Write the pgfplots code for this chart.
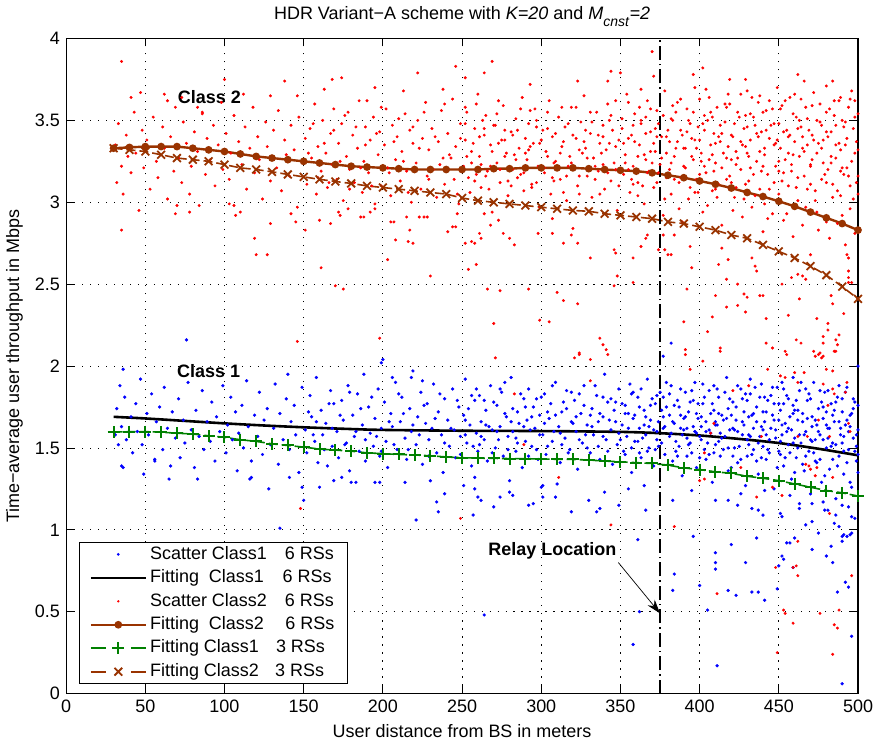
\documentclass[border=0pt]{standalone}
\usepackage{fontspec}
\setmainfont{Liberation Sans}
\usepackage{pgfplots}
\pgfplotsset{compat=1.18}
\usetikzlibrary{arrows.meta}
\definecolor{brn}{RGB}{153,51,0}
\definecolor{grn}{RGB}{0,128,0}
\newcommand{\fs}{\fontsize{18bp}{21bp}\selectfont}
\pgfplotsset{
 limg blue/.style={legend image code/.code={\path[draw=none,fill=none] (0bp,0bp) -- (55bp,0bp); \fill[blue,draw=none] (27.5bp,0bp) circle (1.45bp);}},
 limg red/.style={legend image code/.code={\path[draw=none,fill=none] (0bp,0bp) -- (55bp,0bp); \fill[red,draw=none] (27.5bp,0bp) circle (1.3bp);}},
 limg line/.style={legend image code/.code={\draw[##1] (0bp,0bp) -- (55bp,0bp);}},
 limg mark/.style={legend image code/.code={\draw[##1, mark repeat=2, mark phase=2] plot coordinates {(0bp,0bp) (27.5bp,0bp) (55bp,0bp)};}},
 limg dmark/.style={legend image code/.code={\draw[##1, dash pattern=on 15bp off 25bp on 15bp, mark repeat=2, mark phase=2] plot coordinates {(0bp,0bp) (27.5bp,0bp) (55bp,0bp)};}},
}
\begin{document}
\fs
\begin{tikzpicture}
\begin{axis}[
 scale only axis, width=793bp, height=656bp,
 xmin=0, xmax=500, ymin=0, ymax=4,
 xtick={0,50,100,150,200,250,300,350,400,450,500},
 ytick={0,0.5,1,1.5,2,2.5,3,3.5,4},
 /pgf/number format/assume math mode=true,
 tick label style={font=\fs},
 label style={font=\fs},
 title style={font=\fs},
 tick align=inside, major tick length=8bp,
 tick style={black, line width=0.8bp},
 axis line style={line width=1.2bp},
 grid=major, grid style={black, line width=0.8bp, dash pattern=on 1.2bp off 6.8bp},
 xlabel={User distance from BS in meters},
 ylabel={Time−average user throughput in Mbps},
 title={HDR Variant−A scheme with \textit{K=20} and \textit{M}\raisebox{-0.4em}{\fontsize{14bp}{14bp}\selectfont\textit{cnst}}\textit{=2}},
 legend cell align=left,
 legend style={at={(0.0165,0.0149)}, anchor=south west, draw=black, line width=0.8bp,
   inner xsep=10bp, inner ysep=3bp, row sep=6bp,
   nodes={inner xsep=3bp, inner ysep=0pt, text height=13.5bp, text depth=4bp, font=\fs}},
]
% Scatter Class1 6 RSs
\addplot[only marks, mark=*, mark size=1.45bp, blue, limg blue] coordinates {
(31,1.58) (32,1.74) (33,1.52) (34,1.88) (35,1.63) (36,1.38) (37,1.81) (38,1.55)
(41,1.69) (42,1.47) (44,1.77) (45,1.60) (47,1.92) (48,1.52) (49,1.34)
(51,1.71) (52,1.58) (54,1.83) (56,1.43) (57,1.66) (59,1.75)
(61,1.49) (62,1.87) (64,1.62) (65,1.31) (67,1.72) (69,1.56)
(71,1.80) (72,1.44) (74,1.67) (75,1.53) (77,1.90) (79,1.61)
(81,1.38) (82,1.73) (84,1.57) (86,1.85) (87,1.49) (89,1.66)
(91,1.54) (92,1.78) (94,1.42) (95,1.69) (97,1.60) (99,1.88)
(101,1.47) (102,1.64) (104,1.81) (105,1.55) (107,1.72) (108,1.36) (109,1.59)
(111,1.76) (112,1.50) (114,1.91) (115,1.63) (117,1.42) (119,1.70)
(121,1.57) (122,1.84) (124,1.46) (125,1.67) (127,1.74) (129,1.52)
(131,1.62) (132,1.89) (134,1.40) (135,1.71) (137,1.55) (139,1.80)
(141,1.49) (142,1.66) (144,1.76) (145,1.58) (147,1.35) (149,1.87)
(151,1.61) (152,1.47) (154,1.82) (155,1.69) (157,1.54) (158,1.93) (159,1.41)
(161,1.73) (162,1.58) (164,1.65) (165,1.39) (167,1.85) (168,1.51) (169,1.77)
(171,1.60) (172,1.44) (174,1.79) (175,1.67) (177,1.53) (178,1.88) (179,1.36)
(181,1.70) (182,1.57) (184,1.83) (185,1.48) (187,1.64) (188,1.95) (189,1.42)
(191,1.75) (192,1.59) (194,1.51) (195,1.68) (197,1.86) (198,1.45) (199,1.62)
(201,1.78) (202,1.54) (203,1.38) (205,1.71) (206,1.63) (208,1.90) (209,1.49)
(211,1.66) (212,1.81) (214,1.56) (215,1.43) (217,1.74) (218,1.60) (219,1.97)
(221,1.52) (222,1.69) (224,1.84) (225,1.40) (227,1.65) (228,1.77) (229,1.55)
(231,1.62) (232,1.89) (234,1.47) (235,1.72) (237,1.58) (238,1.35) (239,1.80)
(241,1.67) (242,1.51) (244,1.86) (245,1.61) (246,1.44) (248,1.75) (249,1.57)
(251,1.70) (252,1.92) (253,1.53) (255,1.64) (256,1.39) (258,1.79) (259,1.59) (260,1.48)
(261,1.82) (262,1.66) (264,1.55) (265,1.73) (266,1.42) (268,1.88) (269,1.61)
(271,1.50) (272,1.76) (274,1.63) (275,1.84) (276,1.45) (278,1.69) (279,1.57)
(281,1.93) (282,1.60) (284,1.48) (285,1.72) (286,1.65) (288,1.38) (289,1.80) (290,1.54)
(291,1.67) (292,1.86) (294,1.51) (295,1.75) (296,1.62) (298,1.43) (299,1.70)
(301,1.58) (302,1.83) (303,1.46) (305,1.68) (306,1.77) (307,1.54) (309,1.90)
(311,1.63) (312,1.41) (313,1.72) (315,1.56) (316,1.85) (318,1.49) (319,1.66)
(321,1.79) (322,1.60) (323,1.37) (325,1.71) (326,1.53) (327,1.88) (329,1.64)
(331,1.47) (332,1.74) (333,1.58) (335,1.82) (336,1.66) (337,1.43) (339,1.69) (340,1.95)
(341,1.55) (342,1.78) (344,1.61) (345,1.40) (346,1.73) (348,1.52) (349,1.86)
(351,1.64) (352,1.48) (353,1.76) (354,1.57) (356,1.89) (357,1.35) (358,1.68) (359,1.54)
(361,1.81) (362,1.62) (363,1.44) (365,1.73) (366,1.58) (367,1.92) (368,1.50) (369,1.67)
(371,1.39) (372,1.77) (373,1.60) (375,1.84) (376,1.53) (377,1.69) (378,1.46) (379,1.75)
(381,1.57) (382,1.88) (383,1.42) (384,1.65) (386,1.79) (387,1.51) (388,1.70) (389,1.33) (390,1.61)
(391,1.84) (392,1.56) (393,1.72) (395,1.47) (396,1.63) (397,1.90) (398,1.38) (399,1.68)
(401,1.55) (402,1.77) (403,1.49) (404,1.66) (406,1.85) (407,1.59) (408,1.29) (409,1.73) (410,1.52)
(411,1.64) (412,1.81) (413,1.45) (414,1.70) (416,1.57) (417,1.93) (418,1.36) (419,1.61)
(421,1.78) (422,1.50) (423,1.67) (424,1.41) (426,1.86) (427,1.58) (428,1.72) (429,1.27) (430,1.55)
(431,1.69) (432,1.83) (433,1.46) (434,1.62) (436,1.75) (437,1.34) (438,1.57) (439,1.89) (440,1.51)
(441,1.66) (442,1.43) (443,1.79) (444,1.55) (446,1.70) (447,1.25) (448,1.61) (449,1.87) (450,1.48)
(451,1.73) (452,1.58) (453,1.39) (454,1.65) (455,1.82) (456,1.52) (457,1.69) (458,1.31) (459,1.76) (460,1.56)
(461,1.44) (462,1.67) (463,1.85) (464,1.53) (465,1.71) (466,1.36) (467,1.60) (468,1.79) (469,1.48) (470,1.22)
(471,1.63) (472,1.90) (473,1.55) (474,1.41) (475,1.74) (476,1.58) (477,1.29) (478,1.68) (479,1.84) (480,1.50)
(481,1.62) (482,1.37) (483,1.77) (484,1.53) (485,1.66) (486,1.19) (487,1.81) (488,1.45) (489,1.58) (490,1.72)
(491,1.34) (492,1.64) (493,1.87) (494,1.49) (495,1.70) (496,1.26) (497,1.56) (498,1.78) (499,1.42) (500,1.61)
(353,1.71) (357,1.50) (362,1.75) (364,1.56) (368,1.63) (372,1.49) (374,1.66) (377,1.81) (381,1.70) (385,1.54)
(388,1.62) (392,1.45) (394,1.78) (398,1.59) (401,1.69) (404,1.43) (406,1.61) (409,1.88) (412,1.54) (415,1.67)
(418,1.74) (421,1.45) (424,1.60) (427,1.80) (431,1.52) (434,1.71) (436,1.42) (439,1.63) (442,1.58) (445,1.82)
(447,1.67) (451,1.46) (453,1.77) (456,1.62) (459,1.53) (462,1.73) (465,1.40) (467,1.86) (471,1.54) (473,1.67)
(476,1.43) (478,1.75) (481,1.56) (484,1.70) (486,1.52) (488,1.88) (491,1.57) (493,1.41) (495,1.63) (497,1.80)
(499,1.51) (500,1.35)
(153,1.72) (156,1.58) (158,1.66) (163,1.49) (166,1.77) (168,1.62) (173,1.70) (176,1.52) (179,1.84)
(183,1.60) (186,1.74) (189,1.55) (193,1.81) (196,1.57) (199,1.48) (204,1.66) (207,1.52) (210,1.83)
(213,1.71) (216,1.49) (219,1.64) (223,1.58) (226,1.76) (229,1.45) (233,1.68) (236,1.83) (239,1.53)
(243,1.62) (247,1.79) (249,1.46) (252,1.58) (254,1.74) (257,1.51) (259,1.86) (262,1.57) (264,1.79)
(267,1.63) (269,1.47) (272,1.60) (274,1.86) (277,1.71) (279,1.49) (282,1.74) (284,1.56) (287,1.83)
(289,1.63) (292,1.45) (294,1.69) (297,1.80) (299,1.58) (302,1.65) (304,1.51) (307,1.88) (309,1.70)
(312,1.59) (314,1.78) (317,1.47) (319,1.84) (322,1.69) (324,1.55) (327,1.76) (329,1.50) (332,1.63)
(334,1.88) (337,1.71) (339,1.57) (342,1.48) (344,1.80) (347,1.66) (349,1.59)
(351,1.77) (353,1.46) (355,1.62) (357,1.83) (359,1.70) (361,1.54) (363,1.86) (365,1.64) (367,1.48) (369,1.76)
(371,1.61) (373,1.82) (374,1.51) (376,1.73) (378,1.63) (380,1.40) (381,1.83) (383,1.66) (385,1.48) (387,1.75)
(389,1.58) (391,1.69) (393,1.52) (395,1.85) (397,1.60) (399,1.77) (400,1.44) (401,1.63) (403,1.81) (405,1.53)
(407,1.71) (409,1.47) (410,1.66) (411,1.86) (413,1.59) (415,1.49) (417,1.68) (419,1.80) (420,1.38) (421,1.62)
(423,1.75) (425,1.51) (427,1.66) (429,1.83) (430,1.45) (431,1.58) (433,1.70) (435,1.87) (437,1.53) (439,1.44)
(440,1.72) (441,1.81) (443,1.49) (445,1.62) (447,1.77) (449,1.38) (450,1.67) (451,1.54) (453,1.86) (455,1.60)
(457,1.47) (459,1.71) (460,1.35) (461,1.79) (463,1.58) (465,1.66) (467,1.45) (469,1.83) (470,1.55) (471,1.69)
(473,1.42) (475,1.60) (477,1.78) (479,1.33) (480,1.64) (481,1.85) (483,1.51) (485,1.73) (487,1.39) (489,1.62)
(490,1.80) (491,1.48) (493,1.67) (495,1.29) (497,1.74) (499,1.58) (500,1.46)
(252,1.67) (256,1.82) (261,1.52) (265,1.64) (270,1.78) (273,1.55) (277,1.90) (281,1.66) (285,1.53) (290,1.75)
(293,1.61) (297,1.49) (300,1.81) (304,1.72) (308,1.60) (313,1.52) (316,1.74) (320,1.65) (324,1.83) (328,1.58)
(331,1.70) (336,1.51) (339,1.81) (343,1.67) (347,1.78) (350,1.55) (355,1.71) (358,1.84) (362,1.47) (366,1.69)
(370,1.80) (373,1.55) (377,1.62) (379,1.90)
(382,1.59) (384,1.76) (386,1.45) (388,1.86) (390,1.68) (392,1.62) (394,1.53) (396,1.79) (398,1.71) (400,1.57)
(402,1.89) (404,1.60) (406,1.46) (408,1.77) (410,1.64) (412,1.71) (414,1.56) (416,1.84) (418,1.50) (420,1.70)
(422,1.61) (424,1.88) (426,1.43) (428,1.64) (430,1.79) (432,1.57) (434,1.49) (436,1.66) (438,1.81) (440,1.61)
(442,1.72) (444,1.47) (446,1.87) (448,1.56) (450,1.77) (452,1.64) (454,1.44) (456,1.80) (458,1.61) (460,1.73)
(462,1.50) (464,1.90) (466,1.58) (468,1.68) (470,1.80) (472,1.47) (474,1.64) (476,1.85) (478,1.55) (480,1.72)
(482,1.62) (484,1.43) (486,1.78) (488,1.66) (490,1.53) (492,1.84) (494,1.60) (496,1.71) (498,1.48) (500,1.76)
(418,1.18) (433,1.13) (452,1.08) (463,1.16) (471,1.05) (479,1.12) (488,1.02) (494,1.14) (498,1.07) (457,1.21)
(441,1.24) (426,1.22) (395,1.24) (365,1.27) (340,1.23) (310,1.28) (280,1.30)
(83,1.31) (116,1.31) (128,1.25) (141,1.32) (149,1.26) (150,1.18) (135,1.01) (160,1.26) (169,1.30) (174,1.32)
(180,1.29) (183,1.29) (195,1.29) (198,1.29) (214,1.29) (230,1.30) (221,1.06) (234,1.17) (235,1.11) (239,1.22)
(251,1.27) (258,1.25) (260,1.20) (257,1.09) (258,1.32) (270,1.14) (274,1.20) (280,1.23) (295,1.16) (301,1.27) (301,1.20)
(319,1.11) (292,1.15) (300,1.26) (309,1.20) (282,1.21) (262,1.18) (330,1.18) (335,1.11) (337,1.13) (349,1.15)
(355,1.25) (366,1.12) (383,1.18) (410,1.18) (424,1.15) (437,1.12) (440,1.09) (451,1.10) (463,1.13) (471,1.16)
(481,1.12) (486,1.09) (496,1.08) (478,1.17) (490,1.15)
(35,1.39) (56,1.42) (66,1.39) (117,1.32) (36,1.98) (76,2.16) (140,1.95) (199,2.02) (200,2.04) (206,1.93)
(225,1.91) (218,1.93) (382,2.14) (377,2.06) (432,1.92) (452,1.90) (459,1.93) (500,2.00)
(361,0.94) (362,0.50) (358,0.30) (384,0.73) (383,0.63) (396,0.96) (400,0.66) (405,0.51) (410,0.86) (410,0.80)
(410,0.76) (411,0.17) (418,0.63) (420,0.91) (423,0.60) (429,0.80) (433,0.62) (437,0.62) (436,0.95) (441,0.57)
(449,0.64) (450,0.78) (452,0.84) (453,0.82) (455,0.92) (457,0.92) (459,0.77) (460,0.95) (467,1.03) (471,0.88)
(475,0.98) (480,0.84) (483,0.90) (484,0.80) (485,1.04) (487,0.62) (490,0.96) (491,0.97) (490,0.93) (492,0.68)
(493,0.96) (494,0.65) (495,0.97) (496,0.98) (496,0.35) (490,0.06) (123,0.48) (264,0.48)
};
\addlegendentry{Scatter Class1\hspace{1em}6 RSs}
% Fitting Class1 6 RSs
\addplot[black, line width=2.6bp, smooth, limg line] coordinates {
(30,1.69) (50,1.68) (75,1.665) (100,1.65) (125,1.637) (150,1.626) (175,1.617) (200,1.61) (250,1.605)
(300,1.603) (350,1.598) (375,1.59) (400,1.576) (425,1.555) (450,1.53) (475,1.495) (500,1.455)
};
\addlegendentry{Fitting\hspace{0.55em}Class1\hspace{1.05em}6 RSs}
% Scatter Class2 6 RSs
\addplot[only marks, mark=*, mark size=1.3bp, red, limg red] coordinates {
(31,3.35) (32,3.12) (33,3.48) (35,3.22) (36,3.05) (38,3.41) (39,3.28)
(41,3.18) (43,3.55) (44,3.30) (46,2.95) (48,3.44) (49,3.21)
(51,3.38) (53,3.08) (55,3.52) (57,3.25) (58,3.15)
(61,3.46) (62,3.33) (64,3.02) (66,3.40) (68,3.19) (69,3.58)
(71,3.27) (73,3.12) (74,3.49) (76,3.36) (78,3.05) (79,3.22)
(81,3.43) (83,3.31) (84,2.98) (86,3.54) (88,3.17) (89,3.39)
(91,3.26) (93,3.47) (94,3.10) (96,3.35) (98,3.61) (99,3.20)
(101,3.42) (103,3.14) (104,3.30) (106,3.53) (107,2.92) (109,3.37)
(111,3.23) (113,3.46) (114,3.08) (116,3.33) (118,3.58) (119,3.18)
(121,3.40) (122,3.26) (124,3.02) (126,3.49) (127,3.34) (129,3.13)
(131,3.44) (133,3.21) (134,3.56) (136,3.07) (138,3.38) (139,3.29)
(141,3.16) (142,3.47) (144,3.32) (146,2.97) (147,3.52) (149,3.24)
(151,3.39) (152,3.11) (154,3.45) (155,3.27) (157,3.60) (158,3.05) (159,3.34)
(161,3.19) (162,3.50) (164,3.30) (165,3.09) (167,3.42) (168,3.23) (169,3.57)
(171,3.14) (172,3.36) (174,3.48) (175,3.01) (177,3.28) (178,3.55) (179,3.20)
(181,3.41) (182,3.12) (184,3.33) (185,3.62) (187,3.06) (188,3.25) (189,3.46)
(191,3.18) (192,3.38) (194,3.52) (195,2.96) (197,3.29) (198,3.43) (199,3.10)
(201,3.35) (202,3.57) (203,3.21) (205,3.04) (206,3.47) (208,3.26) (209,3.40)
(211,3.13) (212,3.31) (214,3.54) (215,3.19) (217,3.44) (218,3.00) (219,3.36)
(221,3.24) (222,3.50) (224,3.08) (225,3.39) (227,3.61) (228,3.16) (229,3.32)
(231,3.45) (232,3.20) (234,3.03) (235,3.37) (237,3.56) (238,3.27) (239,3.11)
(241,3.42) (242,3.29) (244,3.63) (245,3.14) (246,3.34) (248,2.99) (249,3.48)
(251,3.22) (252,3.38) (253,3.55) (255,3.06) (256,3.31) (258,3.45) (259,3.17) (260,3.66)
(261,3.28) (262,3.09) (264,3.41) (265,3.53) (266,3.19) (268,3.35) (269,2.94)
(271,3.47) (272,3.24) (274,3.12) (275,3.38) (276,3.59) (278,3.30) (279,3.04)
(281,3.43) (282,3.20) (284,3.51) (285,3.15) (286,3.33) (288,3.64) (289,3.07) (290,3.39)
(291,3.26) (292,3.48) (294,3.11) (295,3.36) (296,3.57) (298,3.22) (299,2.97)
(301,3.44) (302,3.18) (303,3.31) (305,3.62) (306,3.05) (307,3.40) (309,3.25)
(311,3.52) (312,3.14) (313,3.34) (315,3.46) (316,3.01) (318,3.28) (319,3.58)
(321,3.21) (322,3.39) (323,3.10) (325,3.49) (326,3.30) (327,3.65) (329,3.16)
(331,3.42) (332,3.03) (333,3.27) (335,3.55) (336,3.19) (337,3.36) (339,3.47) (340,3.08)
(341,3.32) (342,3.60) (344,3.13) (345,3.44) (346,3.24) (348,2.95) (349,3.38)
(351,3.51) (352,3.17) (353,3.29) (354,3.66) (356,3.06) (357,3.41) (358,3.22) (359,3.54)
(361,3.12) (362,3.35) (363,3.48) (365,2.99) (366,3.26) (367,3.62) (368,3.19) (369,3.43)
(371,3.09) (372,3.31) (373,3.56) (375,3.23) (376,3.40) (377,2.92) (378,3.68) (379,3.15)
(381,3.37) (382,3.05) (383,3.50) (384,3.28) (386,3.61) (387,3.12) (388,3.44) (389,2.88) (390,3.33)
(391,3.21) (392,3.57) (393,3.02) (395,3.39) (396,3.26) (397,3.70) (398,3.14) (399,3.46)
(401,3.30) (402,2.94) (403,3.53) (404,3.18) (406,3.64) (407,3.35) (408,3.07) (409,3.42) (410,3.24)
(411,3.58) (412,3.11) (413,3.37) (414,2.86) (416,3.49) (417,3.27) (418,3.66) (419,3.16)
(421,3.40) (422,3.03) (423,3.31) (424,3.55) (426,3.20) (427,2.91) (428,3.45) (429,3.34) (430,3.68)
(431,3.13) (432,3.38) (433,2.97) (434,3.52) (436,3.25) (437,3.61) (438,3.08) (439,3.43) (440,2.82)
(441,3.29) (442,3.56) (443,3.17) (444,3.39) (446,2.93) (447,3.48) (448,3.22) (449,3.70) (450,3.05)
(451,3.33) (452,3.59) (453,2.89) (454,3.26) (455,3.44) (456,3.10) (457,3.64) (458,3.19) (459,2.79) (460,3.37)
(461,3.52) (462,3.01) (463,3.28) (464,3.46) (465,2.86) (466,3.16) (467,3.58) (468,3.35) (469,2.95) (470,3.23)
(471,3.41) (472,3.67) (473,3.07) (474,3.30) (475,2.83) (476,3.49) (477,3.14) (478,3.38) (479,2.91) (480,3.55)
(481,3.20) (482,2.78) (483,3.43) (484,3.11) (485,3.62) (486,3.27) (487,2.87) (488,3.36) (489,3.04) (490,3.50)
(491,3.17) (492,2.74) (493,3.39) (494,3.58) (495,2.96) (496,3.25) (497,3.45) (498,2.81) (499,3.12) (500,3.32)
(352,3.36) (355,3.20) (358,3.47) (361,3.28) (364,3.10) (366,3.52) (369,3.31) (372,3.45) (374,3.18) (379,3.40)
(382,3.24) (385,3.55) (388,3.15) (391,3.33) (394,3.48) (397,3.06) (400,3.38) (403,3.22) (405,3.50) (408,3.29)
(411,3.12) (414,3.42) (417,3.58) (420,3.26) (423,3.09) (426,3.37) (429,3.53) (432,3.21) (435,3.47) (438,3.31)
(441,2.99) (444,3.62) (447,3.35) (450,3.19) (453,3.43) (456,3.30) (459,3.54) (462,3.15) (465,3.40) (468,3.08)
(471,3.26) (474,3.50) (477,3.33) (480,3.12) (483,3.28) (486,3.47) (489,3.19) (492,3.35) (495,3.10) (498,3.52) (500,3.05)
(253,3.28) (258,3.13) (263,3.50) (268,3.22) (273,3.36) (277,3.44) (283,3.29) (287,3.17) (293,3.34) (297,3.46)
(304,3.28) (308,3.13) (314,3.37) (317,3.22) (324,3.32) (328,3.44) (334,3.14) (338,3.30) (343,3.50) (347,3.20)
(153,3.30) (156,3.48) (159,3.15) (163,3.36) (166,3.12) (169,3.44) (173,3.25) (176,3.53) (179,3.08)
(183,3.46) (186,3.21) (189,3.35) (193,3.10) (196,3.42) (199,3.58) (204,3.18) (207,3.37) (210,3.51)
(213,3.25) (216,3.06) (219,3.46) (223,3.33) (226,3.55) (229,3.14) (233,3.40) (236,3.23) (239,3.60)
(243,3.27) (247,3.05) (249,3.39) (252,3.48) (254,3.15) (257,3.36) (259,3.60) (262,3.23) (264,3.45)
(267,3.08) (269,3.31) (272,3.54) (274,3.20) (277,3.38) (279,3.13) (282,3.41) (284,3.26) (287,3.57)
(289,3.18) (292,3.32) (294,3.09) (297,3.50) (299,3.36) (302,3.21) (304,3.55) (307,3.15) (309,3.42)
(312,3.30) (314,3.06) (317,3.48) (319,3.24) (322,3.58) (324,3.16) (327,3.37) (329,3.27) (332,3.49)
(334,3.22) (337,3.05) (339,3.40) (342,3.18) (344,3.53) (347,3.34) (349,3.10)
(351,3.45) (353,3.24) (355,3.61) (357,3.14) (359,3.37) (361,3.04) (363,3.50) (365,3.29) (367,3.18) (369,3.57)
(371,3.36) (373,3.12) (374,3.48) (376,3.27) (378,3.02) (380,3.44) (381,3.20) (383,3.59) (385,3.33) (387,2.96)
(389,3.41) (391,3.15) (393,3.50) (395,3.28) (397,3.38) (399,3.06) (400,3.63) (401,3.25) (403,3.44) (405,2.98)
(407,3.55) (409,3.19) (410,3.36) (411,3.03) (413,3.47) (415,3.30) (417,3.14) (419,3.60) (420,3.41) (421,2.95)
(423,3.23) (425,3.52) (427,3.35) (429,3.11) (430,3.46) (431,3.28) (433,3.64) (435,3.04) (437,3.40) (439,3.19)
(440,3.55) (441,3.33) (443,2.90) (445,3.47) (447,3.12) (449,3.38) (450,3.25) (451,3.57) (453,3.18) (455,2.93)
(457,3.41) (459,3.29) (460,3.66) (461,3.09) (463,3.50) (465,3.33) (467,2.97) (469,3.44) (470,3.22) (471,3.59)
(473,3.01) (475,3.36) (477,3.47) (479,3.17) (480,2.88) (481,3.40) (483,3.24) (485,3.53) (487,3.07) (489,3.32)
(490,2.92) (491,3.46) (493,3.21) (495,3.63) (497,3.02) (499,3.37) (500,3.16)
(252,3.58) (256,3.24) (261,3.40) (265,3.16) (270,3.47) (273,3.62) (277,3.28) (281,3.10) (285,3.44) (290,3.30)
(293,3.56) (297,3.12) (300,3.38) (304,3.45) (308,3.24) (313,3.58) (316,3.16) (320,3.41) (324,3.05) (328,3.33)
(331,3.55) (336,3.41) (339,3.23) (343,3.36) (347,3.62) (350,3.20) (355,3.39) (358,3.11) (362,3.58) (366,3.42)
(370,3.24) (373,3.40) (377,3.53) (379,3.30)
(382,3.51) (384,3.14) (386,3.37) (388,3.63) (390,3.22) (392,3.43) (394,3.09) (396,3.55) (398,3.33) (400,3.17)
(402,3.48) (404,3.69) (406,3.26) (408,3.52) (410,3.08) (412,3.40) (414,3.21) (416,3.60) (418,3.34) (420,3.12)
(422,3.48) (424,3.27) (426,3.66) (428,3.02) (430,3.30) (432,3.54) (434,3.17) (436,3.42) (438,3.65) (440,3.22)
(442,3.44) (444,3.08) (446,3.57) (448,3.36) (450,3.48) (452,3.13) (454,3.62) (456,3.40) (458,3.23) (460,2.98)
(462,3.45) (464,3.63) (466,3.31) (468,3.51) (470,3.11) (472,3.38) (474,2.94) (476,3.60) (478,3.24) (480,3.43)
(482,3.57) (484,3.03) (486,3.35) (488,3.62) (490,3.21) (492,3.49) (494,3.16) (496,3.68) (498,3.30) (500,3.54)
(41,3.64) (47,3.67) (62,3.66) (64,3.62) (73,3.64) (83,3.58) (86,3.55) (100,3.75) (112,3.66) (129,3.65)
(138,3.74) (146,3.65) (163,3.69) (168,3.75) (174,3.76) (190,3.62) (195,3.70) (213,3.68) (222,3.79) (238,3.69)
(246,3.83) (269,3.86) (264,3.79) (252,3.76) (293,3.72) (323,3.74) (342,3.74) (344,3.80) (350,3.79) (363,3.69)
(371,3.77) (402,3.82) (396,3.78) (419,3.75) (429,3.75) (462,3.78) (466,3.74) (484,3.74) (480,3.71) (489,3.64)
(498,3.62) (35,3.86) (370,3.92)
(35,2.83) (69,2.93) (70,2.98) (78,2.94) (103,2.99) (106,2.98) (110,2.94) (119,2.78) (120,2.68) (127,2.68)
(129,2.87) (142,2.93) (145,2.88) (151,2.83) (146,2.15) (160,2.89) (161,2.60) (167,2.87) (172,2.94) (173,2.92)
(170,2.49) (175,2.47) (178,2.96) (186,2.91) (188,2.91) (192,2.94) (195,2.99) (198,2.17) (203,2.65) (205,2.88)
(207,2.88) (208,2.77) (215,2.91) (217,2.83) (216,2.76) (219,2.75) (223,2.91) (226,2.91) (228,2.91) (230,2.55)
(241,2.82) (246,2.85)
(244,2.85) (247,2.93) (252,2.75) (254,2.59) (256,2.76) (258,2.75) (259,2.62) (261,2.81) (262,2.78) (264,2.93)
(266,2.47) (268,2.86) (270,2.26) (273,2.89) (274,2.46) (276,2.81) (280,2.78) (283,2.74) (292,2.47) (299,2.28)
(305,2.27) (298,2.81) (307,2.90) (307,2.81) (310,2.45) (314,2.40) (314,2.75) (319,2.80) (320,2.84) (323,2.38)
(323,2.75) (324,2.07) (331,2.66) (337,2.17) (341,2.10) (346,2.71) (347,2.69) (348,2.55) (346,2.49) (358,2.66)
(358,2.51) (363,2.73) (366,2.78) (367,2.80) (374,2.71) (377,2.80) (378,2.71) (380,2.68) (382,2.68) (384,2.80)
(390,2.27) (391,2.10) (392,2.47) (394,2.73) (395,2.60) (405,2.21) (408,2.30) (410,2.43) (412,2.62) (413,2.11)
(414,2.72) (417,2.53) (418,2.65) (417,2.36) (424,2.37) (424,2.50) (428,2.44) (430,2.42) (429,2.33) (433,2.66)
(435,2.61) (438,2.43) (440,2.43) (436,2.58) (442,2.14) (442,2.29) (452,2.50) (454,2.09) (456,2.31) (458,2.54)
(462,2.56) (465,2.55) (463,2.41) (461,2.16) (467,2.53) (470,2.68) (472,2.09) (474,2.29) (476,2.08) (478,2.06)
(478,2.18) (481,2.26) (481,2.22) (483,2.43) (484,2.38) (485,2.09) (486,2.16) (488,2.19) (491,2.32) (494,2.51)
(496,2.51) (493,2.68) (494,2.66) (494,2.54) (494,2.58)
(271,2.05) (324,2.08) (321,2.05) (331,2.04) (339,2.13) (342,2.07) (331,1.91) (283,1.83) (289,1.52) (311,1.32)
(391,2.07) (402,2.03) (394,1.98) (413,2.09) (421,1.85) (409,1.65) (407,1.59) (403,1.47) (400,1.30) (403,1.31)
(426,1.38) (431,1.88) (436,1.20) (443,1.98) (446,2.11) (446,1.26) (451,1.94) (454,1.93) (455,2.07) (460,1.96)
(466,1.96) (462,1.90) (464,2.14) (467,1.40) (469,1.39) (470,1.37) (474,1.38) (475,2.07) (477,2.05) (473,2.06)
(478,2.14) (486,2.09) (487,2.13) (480,1.98) (484,1.97) (478,1.89) (484,1.86) (485,1.83) (481,1.76) (475,1.67)
(482,1.57) (468,1.57) (462,1.57) (473,1.33) (484,1.32) (493,1.90) (492,1.84) (494,1.65) (495,1.60) (482,1.10)
(452,1.21) (439,1.57) (148,1.13) (249,1.07)
(344,1.03) (384,1.02) (411,0.61) (448,0.77) (449,0.25) (453,0.51) (454,0.49) (459,0.43) (459,0.77) (461,0.78)
(462,0.93) (462,0.72) (476,0.49) (484,0.24) (485,0.42) (487,0.40) (488,0.51) (496,0.72)
};
\addlegendentry{Scatter Class2\hspace{1em}6 RSs}
% Fitting Class2 6 RSs
\addplot[brn, line width=2.4bp, mark=*, mark size=2.6bp, mark options={solid, fill=brn}, limg mark] coordinates {
(30,3.33) (40,3.335) (50,3.34) (60,3.34) (70,3.34) (80,3.33) (90,3.32) (100,3.31) (110,3.295) (120,3.28)
(130,3.27) (140,3.26) (150,3.25) (160,3.24) (170,3.23) (180,3.22) (190,3.215) (200,3.21) (210,3.205) (220,3.20)
(230,3.20) (240,3.20) (250,3.20) (260,3.20) (270,3.205) (280,3.205) (290,3.21) (300,3.21) (310,3.21) (320,3.21)
(330,3.205) (340,3.20) (350,3.195) (360,3.19) (370,3.18) (380,3.165) (390,3.15) (400,3.13) (410,3.11) (420,3.087)
(430,3.06) (440,3.035) (450,3.006) (460,2.975) (470,2.94) (480,2.905) (490,2.87) (500,2.83)
};
\addlegendentry{Fitting\hspace{0.55em}Class2\hspace{1.2em}6 RSs}
% Fitting Class1 3 RSs
\addplot[grn, line width=1.6bp, dash pattern=on 9bp off 4bp, mark=+, mark size=6bp, mark options={solid, line width=2bp}, limg dmark] coordinates {
(30,1.596) (40,1.60) (50,1.60) (60,1.596) (70,1.59) (80,1.585) (90,1.574) (100,1.565) (110,1.55) (120,1.54)
(130,1.525) (140,1.515) (150,1.505) (160,1.493) (170,1.487) (180,1.48) (190,1.47) (200,1.465) (210,1.46) (220,1.457)
(230,1.452) (240,1.445) (250,1.44) (260,1.438) (270,1.436) (280,1.435) (290,1.434) (300,1.433) (310,1.43) (320,1.43)
(330,1.426) (340,1.42) (350,1.415) (360,1.41) (370,1.405) (380,1.395) (390,1.378) (400,1.368) (410,1.354) (420,1.345)
(430,1.327) (440,1.315) (450,1.30) (460,1.28) (470,1.26) (480,1.24) (490,1.226) (500,1.206)
};
\addlegendentry{Fitting Class1\hspace{0.95em}3 RSs}
% Fitting Class2 3 RSs
\addplot[brn, line width=1.6bp, dash pattern=on 9bp off 4bp, mark=x, mark size=5.5bp, mark options={solid, line width=1.8bp}, limg dmark] coordinates {
(30,3.33) (40,3.32) (50,3.31) (60,3.29) (70,3.27) (80,3.26) (90,3.25) (100,3.23) (110,3.21) (120,3.20)
(130,3.186) (140,3.17) (150,3.155) (160,3.14) (170,3.127) (180,3.115) (190,3.10) (200,3.09) (210,3.08) (220,3.07)
(230,3.06) (240,3.05) (250,3.026) (260,3.01) (270,3.00) (280,2.99) (290,2.98) (300,2.97) (310,2.96) (320,2.95)
(330,2.945) (340,2.93) (350,2.92) (360,2.91) (370,2.90) (380,2.88) (390,2.87) (400,2.85) (410,2.83) (420,2.80)
(430,2.78) (440,2.74) (450,2.70) (460,2.66) (470,2.61) (480,2.555) (490,2.485) (500,2.41)
};
\addlegendentry{Fitting Class2\hspace{0.9em}3 RSs}
% Relay location line
\addplot[black, line width=1.6bp, dash pattern=on 14bp off 4bp on 1.5bp off 4bp, forget plot] coordinates {(375,0) (375,4)};
\node[font=\fs\bfseries] at (axis cs:90.5,3.64) {Class 2};
\node[font=\fs\bfseries] at (axis cs:90,1.97) {Class 1};
\node[font=\fs\bfseries] at (axis cs:307,0.873) {Relay Location};
\draw[-{Stealth[length=14bp,width=9bp]}, line width=0.7bp] (axis cs:348.7,0.80) -- (axis cs:375,0.49);
\end{axis}
\end{tikzpicture}
\end{document}
